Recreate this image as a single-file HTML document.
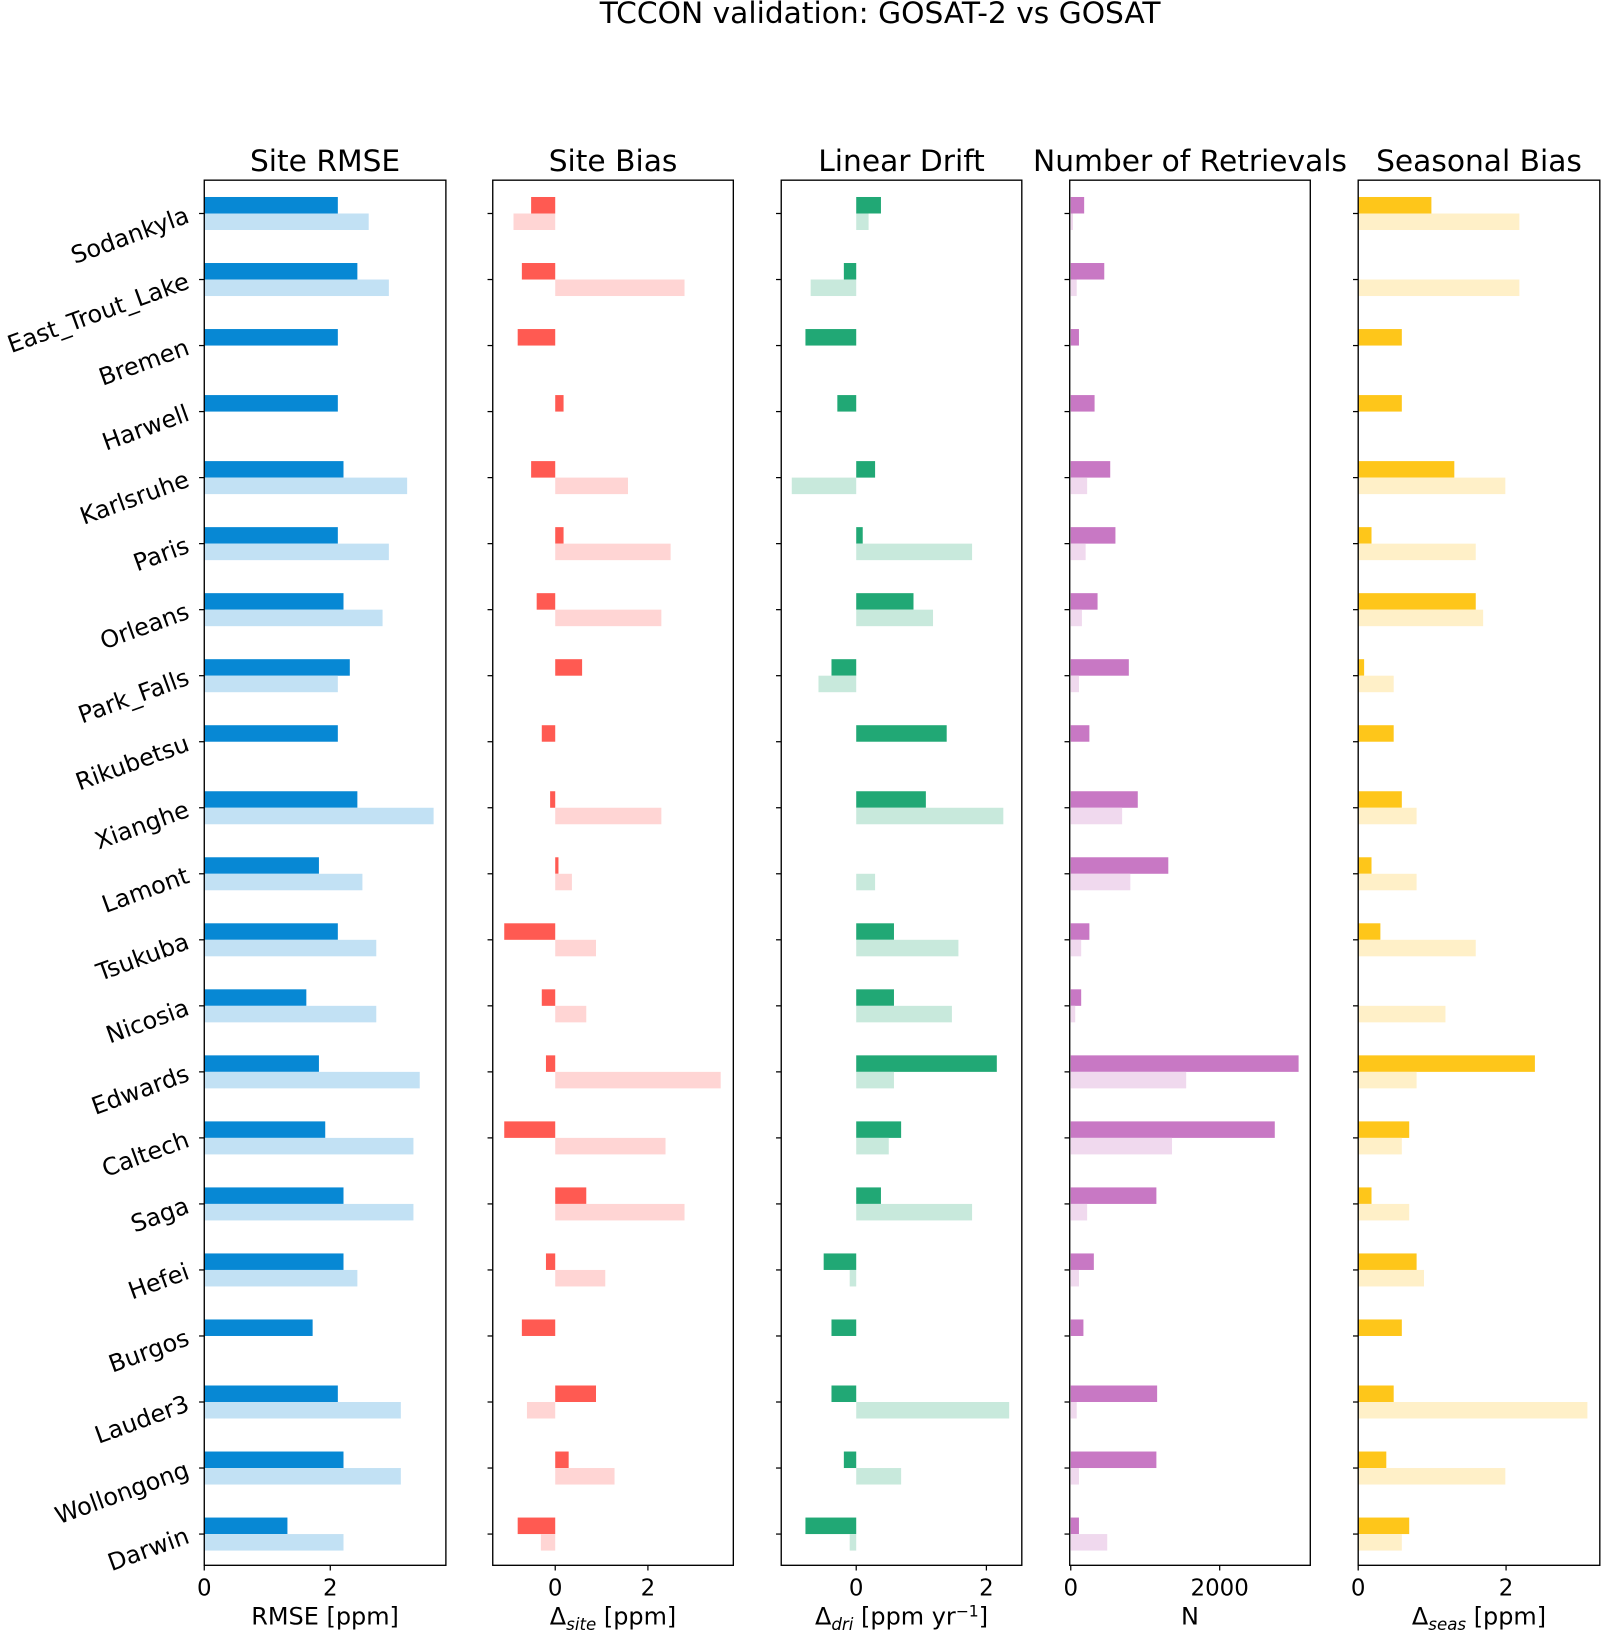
<!DOCTYPE html>
<html><head><meta charset="utf-8"><style>
html,body{margin:0;padding:0;background:#fff;}
svg{display:block;font-family:"DejaVu Sans","Liberation Sans",sans-serif;}
</style></head><body>
<svg id="fig" xmlns="http://www.w3.org/2000/svg" width="1601" height="1633" viewBox="0 0 1537 1568">
<text x="845" y="22" font-size="28.5" text-anchor="middle">TCCON validation: GOSAT-2 vs GOSAT</text>
</svg>
<script>
const sites = ["Sodankyla","East_Trout_Lake","Bremen","Harwell","Karlsruhe","Paris","Orleans","Park_Falls","Rikubetsu","Xianghe","Lamont","Tsukuba","Nicosia","Edwards","Caltech","Saga","Hefei","Burgos","Lauder3","Wollongong","Darwin"];
const rmseG2 = [2.12,2.43,2.12,2.12,2.21,2.12,2.21,2.31,2.12,2.43,1.82,2.12,1.62,1.82,1.92,2.21,2.21,1.72,2.12,2.21,1.32];
const rmseG1 = [2.61,2.93,null,null,3.22,2.93,2.83,2.12,null,3.64,2.51,2.73,2.73,3.42,3.32,3.32,2.43,null,3.12,3.12,2.21];
const biasG2 = [-0.52,-0.72,-0.81,0.18,-0.52,0.18,-0.4,0.58,-0.29,-0.11,0.07,-1.1,-0.29,-0.2,-1.1,0.67,-0.2,-0.72,0.88,0.29,-0.81];
const biasG1 = [-0.9,2.79,null,null,1.57,2.49,2.29,null,null,2.29,0.36,0.88,0.67,3.57,2.38,2.79,1.08,null,-0.61,1.28,-0.31];
const driftG2 = [0.38,-0.19,-0.78,-0.29,0.29,0.1,0.88,-0.38,1.39,1.07,0,0.58,0.58,2.16,0.69,0.38,-0.5,-0.38,-0.38,-0.19,-0.78];
const driftG1 = [0.19,-0.7,null,null,-0.99,1.78,1.18,-0.58,null,2.26,0.29,1.57,1.47,0.58,0.5,1.78,-0.1,null,2.35,0.69,-0.1];
const nG2 = [180,450,110,320,530,600,360,780,250,900,1310,250,140,3060,2740,1150,310,170,1160,1150,110];
const nG1 = [30,80,null,null,220,200,150,110,null,690,800,140,60,1550,1360,220,110,null,80,110,490];
const seasG2 = [0.99,null,0.59,0.59,1.3,0.18,1.59,0.08,0.48,0.59,0.18,0.3,null,2.39,0.69,0.18,0.79,0.59,0.48,0.38,0.69];
const seasG1 = [2.18,2.18,null,null,1.99,1.59,1.69,0.48,null,0.79,0.79,1.59,1.18,0.79,0.59,0.69,0.89,null,3.1,1.99,0.59];
const xTicks1 = [0,2], xTicks2=[0,2], xTicks3=[0,2], xTicks4=[0,2000], xTicks5=[0,2];

const NS="http://www.w3.org/2000/svg";
const svg=document.getElementById('fig');
const TOP=173, BOT=1503, Y0=205, STEP=63.4;
function yOf(i){return Y0+i*STEP;}
function mk(tag,attrs,parent){const e=document.createElementNS(NS,tag);for(const k in attrs)e.setAttribute(k,attrs[k]);(parent||svg).appendChild(e);return e;}

const panels=[
 {key:"rmse",title:"Site RMSE",x0:196,x1:428,vmin:0,vmax:3.835,g2:rmseG2,g1:rmseG1,c2:"#0788d4",c1:"#c2e1f4",ticks:xTicks1,label:"RMSE [ppm]"},
 {key:"bias",title:"Site Bias",x0:473,x1:704,vmin:-1.348,vmax:3.843,g2:biasG2,g1:biasG1,c2:"#ff5a52",c1:"#ffd5d4",ticks:xTicks2,label:["Δ","site"," [ppm]"]},
 {key:"drift",title:"Linear Drift",x0:750,x1:981,vmin:-1.152,vmax:2.544,g2:driftG2,g1:driftG1,c2:"#21a875",c1:"#c8e9dc",ticks:xTicks3,label:["Δ","dri"," [ppm yr","−1","]"]},
 {key:"n",title:"Number of Retrievals",x0:1027,x1:1258,vmin:-14,vmax:3217,g2:nG2,g1:nG1,c2:"#c878c4",c1:"#f0d9ee",ticks:xTicks4,label:"N"},
 {key:"seas",title:"Seasonal Bias",x0:1304,x1:1536,vmin:0,vmax:3.268,g2:seasG2,g1:seasG1,c2:"#fec61a",c1:"#fff0c8",ticks:xTicks5,label:["Δ","seas"," [ppm]"]}
];

panels.forEach((p,pi)=>{
  const g=mk('g',{});
  
  
  const xs=v=>p.x0+(v-p.vmin)/(p.vmax-p.vmin)*(p.x1-p.x0);
  const t=mk('text',{x:(p.x0+p.x1)/2,y:164,'font-size':28.5,'text-anchor':'middle'},g);
  t.textContent=p.title;
  
  
  const h=STEP*0.25;
  sites.forEach((s,i)=>{
    const yc=yOf(i);
    [[p.g2[i],yc-h,p.c2,'gosat2'],[p.g1[i],yc,p.c1,'gosat']].forEach(([v,y,c,nm])=>{
      if(v===null||v===undefined)return;
      const a=xs(0),b=xs(v);
      const r=mk('rect',{x:Math.min(a,b),y:y,width:Math.abs(b-a),height:h,fill:c},g);
      
      
    });
    mk('line',{x1:p.x0-5,x2:p.x0,y1:yc,y2:yc,stroke:'#000','stroke-width':1.2},g);
    if(pi===0){
      const lt=mk('text',{x:183,y:yc+8,'font-size':23,'text-anchor':'end',transform:`rotate(-20 183 ${yc+8})`},g);
      lt.textContent=s;
      
      
    }
  });
  const fr=mk('rect',{x:p.x0,y:TOP,width:p.x1-p.x0,height:BOT-TOP,fill:'none',stroke:'#000','stroke-width':1.3},g);
  
  
  p.ticks.forEach(v=>{
    const x=xs(v);
    mk('line',{x1:x,x2:x,y1:BOT,y2:BOT+5,stroke:'#000','stroke-width':1.2},g);
    const tt=mk('text',{x:x,y:1532,'font-size':22,'text-anchor':'middle'},g);
    tt.textContent=v;
    
    
  });
  const al=mk('text',{x:(p.x0+p.x1)/2,y:1560,'font-size':23,'text-anchor':'middle'},g);
  
  
  if(typeof p.label==='string'){al.textContent=p.label;}
  else{
    p.label.forEach((part,k)=>{
      const sp=mk('tspan',{},al);
      sp.textContent=part;
      if(k===1){sp.setAttribute('font-style','italic');sp.setAttribute('font-size','16');sp.setAttribute('dy','5');}
      if(k===2){sp.setAttribute('dy','-5');}
      if(k===3){sp.setAttribute('font-size','15');sp.setAttribute('dy','-8');}
      if(k===4){sp.setAttribute('dy','8');}
    });
  }
});
</script>
</body></html>
